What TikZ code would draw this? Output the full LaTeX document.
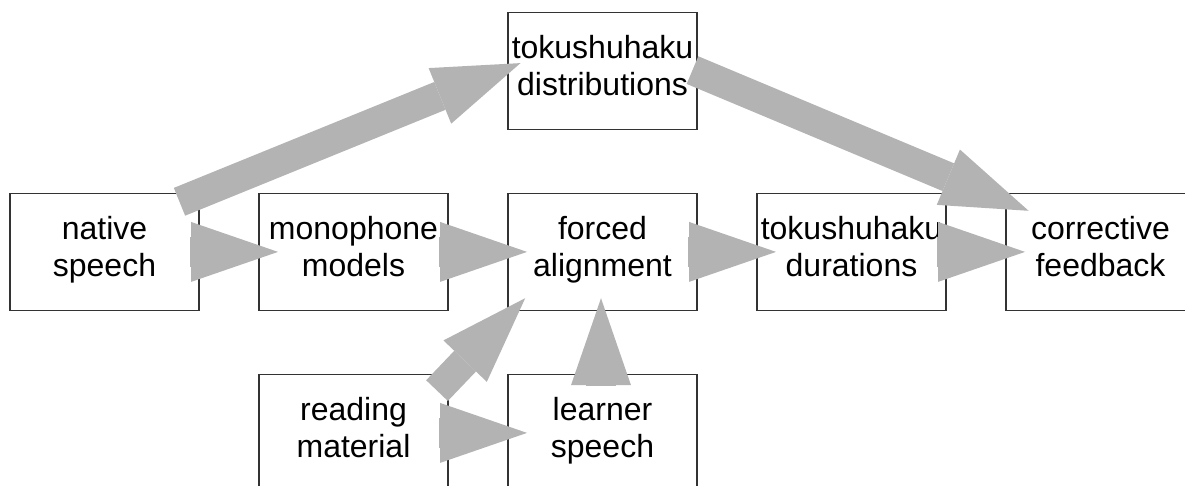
\documentclass[tikz,border=0pt]{standalone}
\usepackage{fontspec}
\setmainfont{Liberation Sans}
\usetikzlibrary{arrows.meta,positioning,calc}
\definecolor{FlowGray}{RGB}{179,179,179}

\begin{document}
\begin{tikzpicture}[x=0.5pt,y=0.5pt,
  stage/.style={draw=black!80,line width=0.6pt,fill=white,minimum width=94.5pt,minimum height=58.5pt,inner sep=0pt,outer sep=0pt,align=center,font=\fontsize{16}{18.4}\selectfont,execute at begin node=\strut,execute at end node=\strut},
  flow/.style={draw=FlowGray,line width=15pt,-{Triangle[length=43.5pt,width=30pt,line width=0pt]}}
]
  \useasboundingbox (0,0) rectangle (1185,-486);
  \node[stage] (native) at (104.5,-251.9) {native\\speech};
  \node[stage,right=30pt of native] (mono) {monophone\\models};
  \node[stage,right=30pt of mono] (align) {forced\\alignment};
  \node[stage,right=30pt of align] (dur) {tokushuhaku\\durations};
  \node[stage,right=30pt of dur] (fb) {corrective\\feedback};
  \node[stage,above=32pt of align] (dist) {tokushuhaku\\distributions};
  \node[stage,below=32pt of mono] (read) {reading\\material};
  \node[stage,right=30pt of read] (learner) {learner\\speech};
  % main chain
  \draw[flow] ($(native.east)+(-9,0)$) -- ($(mono.west)+(19,0)$);
  \draw[flow] ($(mono.east)+(-9,0)$) -- ($(align.west)+(19,0)$);
  \draw[flow] ($(align.east)+(-9,0)$) -- ($(dur.west)+(19,0)$);
  \draw[flow] ($(dur.east)+(-9,0)$) -- ($(fb.west)+(19,0)$);
  \draw[flow] ($(read.east)+(-9,0)$) -- ($(learner.west)+(19,0)$);
  % diagonal and upward arrows
  \draw[flow] ($(native.north east)+(-19.5,-8.4)$) -- ($(dist.west)+(12.5,7.8)$);
  \draw[flow] ($(dist.east)+(-4.5,0.8)$) -- ($(fb.north west)+(22.6,-17.4)$);
  \draw[flow] ($(read.north east)+(-11,-16.2)$) -- ($(align.south west)+(17.2,12.2)$);
  \draw[flow] ($(learner.north)+(-1.5,-11.7)$) -- ($(align.south)+(-1.5,12.2)$);
\end{tikzpicture}
\end{document}
